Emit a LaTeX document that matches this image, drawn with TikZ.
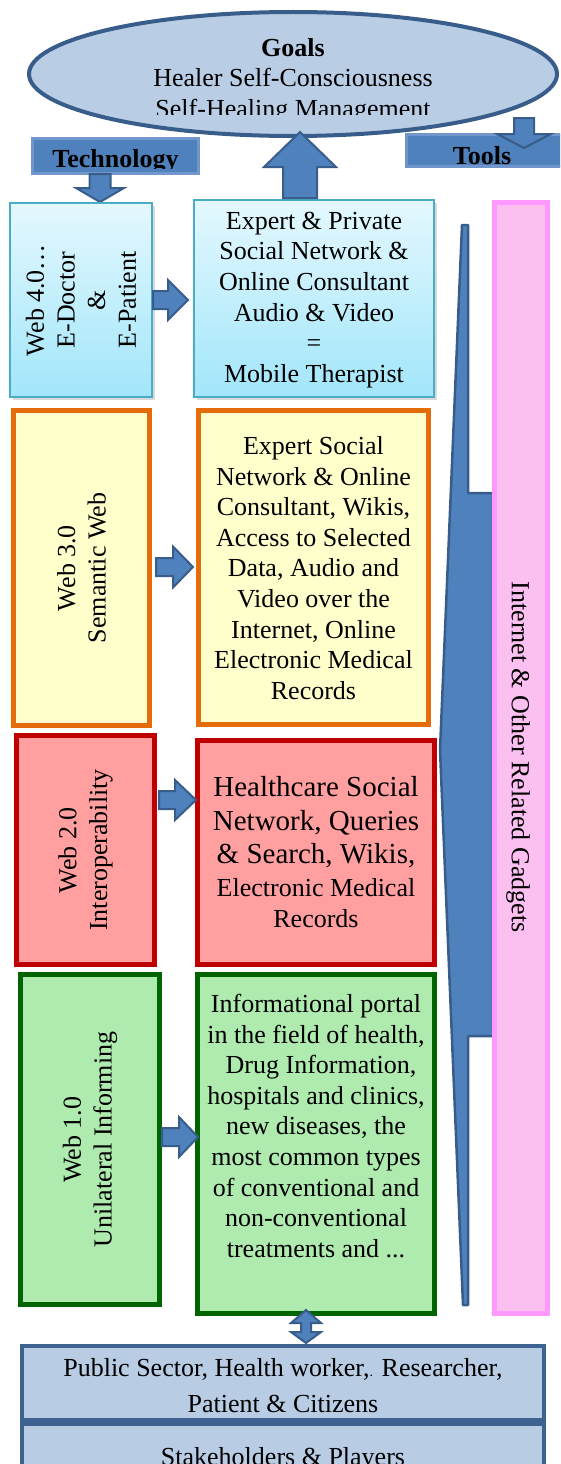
\documentclass[tikz,border=0pt]{standalone}
\usepackage{fontspec}
\setmainfont{Liberation Serif}
\usetikzlibrary{shapes.geometric,shadows}
\definecolor{ellF}{HTML}{B9CDE5}
\definecolor{darkB}{HTML}{385D8A}
\definecolor{midB}{HTML}{4F81BD}
\definecolor{techB}{HTML}{7096CB}
\definecolor{cyanB}{HTML}{4BACC6}
\definecolor{cyanT}{HTML}{E4F8FE}
\definecolor{cyanL}{HTML}{A2E6FA}
\definecolor{yelF}{HTML}{FFFFCC}
\definecolor{oraB}{HTML}{E46C0A}
\definecolor{redF}{HTML}{FF9F9F}
\definecolor{redB}{HTML}{C00000}
\definecolor{grnF}{HTML}{AFEAAF}
\definecolor{grnB}{HTML}{006400}
\definecolor{pinkF}{HTML}{FCC0F0}
\definecolor{pinkB}{HTML}{FF99FF}
\definecolor{stkF}{HTML}{B8CCE4}
\definecolor{stkB}{HTML}{3F6391}
% block arrow: center x, center y, rotation, length, shaft width, head width, head length
\newcommand\barrow[7]{%
\begin{scope}[shift={(#1,#2)},rotate=#3]
\draw[blockar] ({-(#4)/2},{-(#5)/2}) -- ({(#4)/2-(#7)},{-(#5)/2}) -- ({(#4)/2-(#7)},{-(#6)/2}) -- ({(#4)/2},0) -- ({(#4)/2-(#7)},{(#6)/2}) -- ({(#4)/2-(#7)},{(#5)/2}) -- ({-(#4)/2},{(#5)/2}) -- cycle;
\end{scope}}
\begin{document}
\begin{tikzpicture}[x=1pt,y=-1pt,
 box/.style={rectangle, inner sep=0pt, outer sep=0pt},
 txt/.style={font=\fontsize{26}{30.6}\selectfont, align=center, inner sep=0pt},
 blockar/.style={fill=midB, draw=darkB, line width=2pt, line join=miter},
 cyanbox/.style={box, draw=cyanB, line width=2pt, top color=cyanT, bottom color=cyanL, drop shadow={opacity=0.3, shadow xshift=2.5pt, shadow yshift=-2.5pt}},
 yelbox/.style={box, draw=oraB, fill=yelF, line width=5pt},
 redbox/.style={box, draw=redB, fill=redF, line width=5pt},
 grnbox/.style={box, draw=grnB, fill=grnF, line width=5pt},
 stkbox/.style={box, draw=stkB, fill=stkF, line width=4pt},
 bluelabel/.style={box, draw=techB, fill=midB, line width=3pt}]
\useasboundingbox (0,0) rectangle (560,1464);
\clip (0,0) rectangle (560,1464);

% Goals ellipse
\node[ellipse, draw=darkB, fill=ellF, line width=4pt, minimum width=528pt, minimum height=124pt, inner sep=0pt] (goals) at (293,74) {};
\begin{scope}
\clip (0,0) rectangle (560,114);
\node[txt] at (293,80.5) {\textbf{Goals}\\Healer Self-Consciousness\\Self-Healing Management};
\end{scope}

% Technology and Tools labels
\node[bluelabel, minimum width=166pt, minimum height=35pt] (tech) at (115.5,156) {};
\begin{scope}
\clip (31,130) rectangle (200,168.5);
\node[txt, anchor=base] at (115.5,167) {\textbf{Technology}};
\end{scope}
\node[bluelabel, minimum width=167pt, minimum height=32pt] (tools) at (490,150.5) {};
\node[txt, anchor=base] at (482,164) {\textbf{Tools}};
\barrow{524}{133}{-90}{30}{20}{54}{14}
\barrow{100}{188}{-90}{28}{21}{48}{14}

% Web 4.0 row
\node[cyanbox, minimum width=142pt, minimum height=194pt] (web4) at (81,300) {};
\node[txt, rotate=90] at (web4.center) {Web 4.0…\\E-Doctor\\\&\\E-Patient};
\node[cyanbox, minimum width=240pt, minimum height=197pt] (exp4) at (314,298.5) {};
\node[txt] at (314,300) {Expert \& Private\\Social Network \&\\Online Consultant\\Audio \& Video\\=\\Mobile Therapist};
\barrow{170.5}{300}{0}{35}{18}{40}{20}
\barrow{300}{165}{90}{66}{34}{72}{35}

% Web 3.0 row
\node[yelbox, minimum width=136pt, minimum height=315pt] (web3) at (81.5,568) {};
\node[txt, rotate=90] at (web3.center) {Web 3.0\\Semantic Web};
\node[yelbox, minimum width=230pt, minimum height=314pt] (exp3) at (313.5,567.5) {};
\node[txt] at (313.5,568) {Expert Social\\Network \& Online\\Consultant, Wikis,\\Access to Selected\\Data, Audio and\\Video over the\\Internet, Online\\Electronic Medical\\Records};
\barrow{174.5}{567}{0}{37}{18}{41}{20}

% Web 2.0 row
\node[redbox, minimum width=138pt, minimum height=229pt] (web2) at (85.5,850) {};
\node[txt, rotate=90] at (web2.center) {Web 2.0\\Interoperability};
\node[redbox, minimum width=237pt, minimum height=224pt] (health) at (316,852.5) {};
\node[txt, font=\fontsize{29}{33.5}\selectfont] at (316,822.5) {Healthcare Social\\Network, Queries\\\& Search, Wikis,};
\node[txt, font=\fontsize{26}{31}\selectfont] at (316,903.5) {Electronic Medical\\Records};
\barrow{177.5}{800}{0}{37}{18}{40}{21}

% Web 1.0 row
\node[grnbox, minimum width=139pt, minimum height=330pt] (web1) at (90,1139.5) {};
\node[txt, rotate=90] at (web1.center) {Web 1.0\\Unilateral Informing};
\node[grnbox, minimum width=237pt, minimum height=339pt] (info) at (316,1144) {};
\node[txt] at (316,1126) {Informational portal\\in the field of health,\\\hspace*{10pt}Drug Information,\\hospitals and clinics,\\new diseases, the\\most common types\\of conventional and\\non-conventional\\treatments and ...};
\barrow{180}{1137}{0}{36}{18}{40}{19}

% Tools bracket and gadgets column
\draw[fill=midB, draw=darkB, line width=2.5pt, line join=round] (462,225) -- (468,225) -- (468,493) -- (493,493) -- (493,1036) -- (468,1036) -- (468,1305) -- (463,1305) -- (440,750) -- cycle;
\node[box, draw=pinkB, fill=pinkF, line width=5pt, minimum width=53pt, minimum height=1111pt] (gadgets) at (521,758) {};
\node[txt, rotate=-90] at (518,757) {Internet \& Other Related Gadgets};

% Stakeholders
\begin{scope}[shift={(306,1326.5)}]
\draw[blockar] (0,-16.5) -- (15,-3.5) -- (5,-3.5) -- (5,5.5) -- (15,5.5) -- (0,16.5) -- (-15,5.5) -- (-5,5.5) -- (-5,-3.5) -- (-15,-3.5) -- cycle;
\end{scope}
\node[stkbox, minimum width=522pt, minimum height=74pt] (stake1) at (283,1383) {};
\node[txt, font=\fontsize{26}{36}\selectfont] at (283,1386) {Public Sector, Health worker,{\fontsize{14}{14}\selectfont .} Researcher,\\Patient \& Citizens};
\node[stkbox, minimum width=522pt, minimum height=74pt] (stake2) at (283,1461) {};
\node[txt, anchor=base] at (283,1465) {Stakeholders \& Players};
\end{tikzpicture}
\end{document}
